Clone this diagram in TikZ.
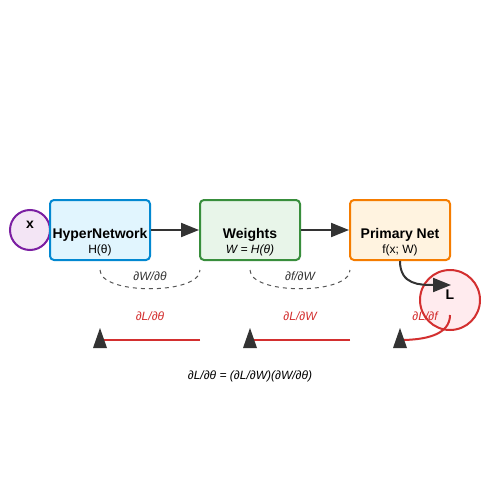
\documentclass[tikz,border=0pt]{standalone}
\usepackage{fontspec}
\setmainfont{Liberation Sans}
\usetikzlibrary{arrows.meta}
\definecolor{dark}{HTML}{333333}
\definecolor{redL}{HTML}{D32F2F}
\definecolor{dashc}{HTML}{555555}
\tikzset{
  box/.style={draw, line width=2pt, rounded corners=4pt, minimum width=100pt, minimum height=60pt, inner sep=0pt},
  circ/.style={draw, circle, line width=2pt, inner sep=0pt},
  ttl/.style={font=\fontsize{14}{16}\selectfont\bfseries, inner sep=0pt, text=black},
  sub/.style={font=\fontsize{12}{14}\selectfont, inner sep=0pt, text=black},
  lab/.style={font=\fontsize{12}{14}\selectfont\itshape, inner sep=0pt},
  fwd/.style={draw=dark, line width=2pt, -{Triangle[length=18pt,width=14pt]}},
  dsh/.style={draw=dashc, line width=1pt, dash pattern=on 4pt off 4pt},
  bwd/.style={draw=redL, line width=2pt},
  tri/.style={fill=dark},
}
\begin{document}
\begin{tikzpicture}[x=1pt,y=-1pt]
\useasboundingbox (0,0) rectangle (500,500);
\fill[white] (0,0) rectangle (500,500);
% nodes
\node[circ, minimum size=40pt, fill={rgb,255:red,243;green,229;blue,245}, draw={rgb,255:red,123;green,31;blue,162}] (x) at (30,230) {};
\node[box, fill={rgb,255:red,225;green,245;blue,254}, draw={rgb,255:red,2;green,136;blue,209}] (hn) at (100,230) {};
\node[box, fill={rgb,255:red,232;green,245;blue,233}, draw={rgb,255:red,56;green,142;blue,60}] (w) at (250,230) {};
\node[box, fill={rgb,255:red,255;green,243;blue,224}, draw={rgb,255:red,245;green,124;blue,0}] (pn) at (400,230) {};
\node[circ, minimum size=60pt, fill={rgb,255:red,255;green,235;blue,238}, draw=redL] (L) at (450,300) {};
% texts
\node[ttl] (xt) at (30,225) {x};
\node[ttl] (hnt) at (100,235) {HyperNetwork};
\node[sub] (hns) at (100,250) {H(θ)};
\node[ttl] (wt) at (250,235) {Weights};
\node[sub, font=\fontsize{12}{14}\selectfont\itshape] (ws) at (250,250) {W = H(θ)};
\node[ttl] (pnt) at (400,235) {Primary Net};
\node[sub] (pns) at (400,250) {f(x; W)};
\node[ttl] (Lt) at (450,295) {L};
% forward arrows
\draw[fwd] (hn.east) -- (w.west);
\draw[fwd] (w.east) -- (pn.west);
\coordinate (ltip) at (451,285);
\draw[fwd] (pn.south) .. controls (400,285) and (420,285) .. (ltip);
% dashed local derivatives
\coordinate (d1a) at (100,270); \coordinate (d1b) at (200,270);
\coordinate (d2a) at (250,270); \coordinate (d2b) at (350,270);
\draw[dsh] (d1a) .. controls (100,295) and (200,295) .. (d1b);
\draw[dsh] (d2a) .. controls (250,295) and (350,295) .. (d2b);
\node[lab, text=dark] (l1) at (150,276) {∂W/∂θ};
\node[lab, text=dark] (l2) at (300,276) {∂f/∂W};
% backward
\coordinate (b1s) at (200,340); \coordinate (b1e) at (100,340);
\coordinate (b2s) at (350,340); \coordinate (b2e) at (250,340);
\coordinate (b3s) at (450,315); \coordinate (b3e) at (400,340);
\draw[bwd] (b1s) -- (b1e);
\draw[bwd] (b2s) -- (b2e);
\draw[bwd] (b3s) .. controls (450,335) and (425,340) .. (b3e);
\foreach \c in {b1e,b2e,b3e}{
  \fill[tri] ([shift={(-7,8)}]\c) -- ([shift={(7,8)}]\c) -- ([shift={(0,-12)}]\c) -- cycle;
}
\node[lab, text=redL] (r1) at (150,316) {∂L/∂θ};
\node[lab, text=redL] (r2) at (300,316) {∂L/∂W};
\node[lab, text=redL] (r3) at (425,316) {∂L/∂f};
\node[lab, text=black] (eq) at (250,376) {∂L/∂θ = (∂L/∂W)(∂W/∂θ)};
\end{tikzpicture}
\end{document}
